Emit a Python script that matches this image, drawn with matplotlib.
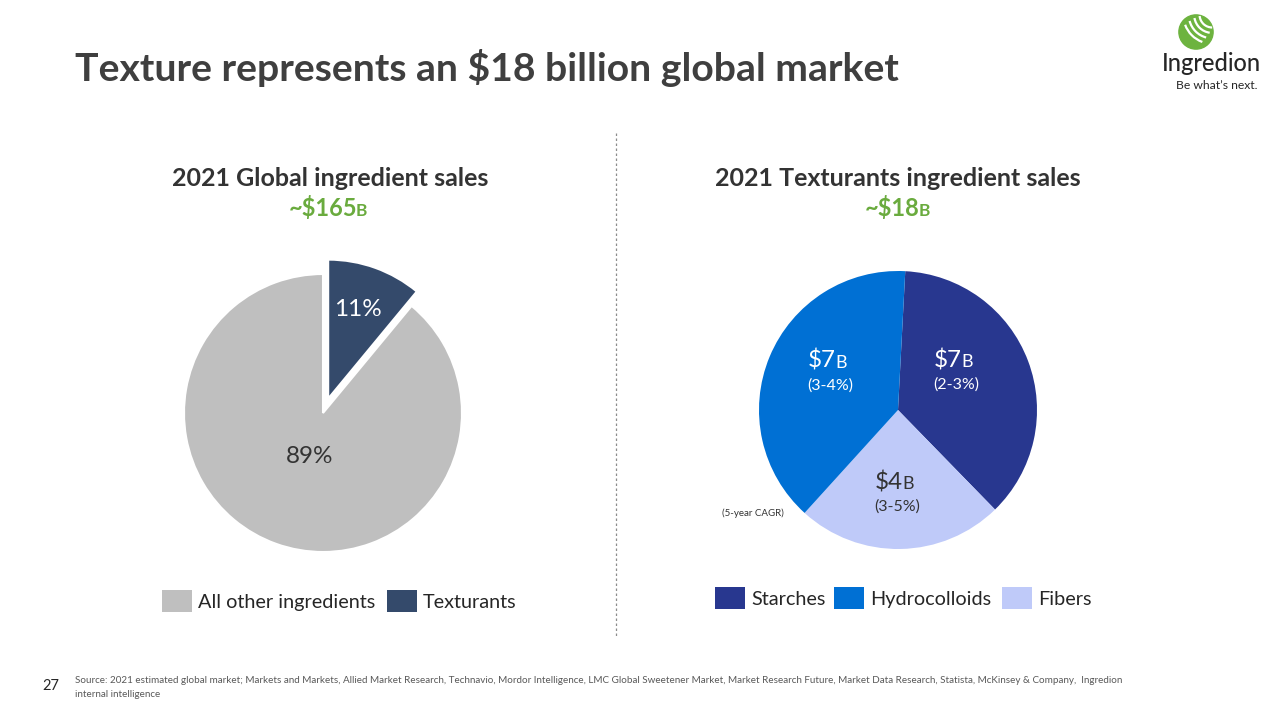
import matplotlib
matplotlib.use('Agg')
import matplotlib.pyplot as plt
from matplotlib.patches import Rectangle, Circle, Arc

plt.rcParams['font.family'] = ['Lato', 'DejaVu Sans']

# left pie: share of global ingredient sales
global_labels = ['Texturants', 'All other ingredients']
global_share = [11, 89]
global_colors = ['#344A6B', '#BFBFBF']

# right pie: texturant sales in $B (clockwise from the top)
tex_labels = ['Starches', 'Fibers', 'Hydrocolloids']
tex_sales = [6.6, 4.3, 7.0]
tex_value_text = ['$7', '$4', '$7']
tex_cagr = ['(2-3%)', '(3-5%)', '(3-4%)']
tex_colors = ['#28378F', '#BFCAF9', '#0070D4']
tex_text_colors = ['white', '#333333', 'white']

source_lines = ["Source: 2021 estimated global market; Markets and Markets, Allied Market Research, Technavio, "
                "Mordor Intelligence, LMC Global Sweetener Market, Market Research Future, Market Data Research, "
                "Statista, McKinsey & Company,  Ingredion",
                "internal intelligence"]

W, H = 1280, 720
fig = plt.figure(figsize=(12.8, 7.2), dpi=100)
fig.patch.set_facecolor('white')


def fx(x):
    return x / W


def fy(y):
    return 1 - y / H


def pie_axes(cx, cy, r, lim=1.3):
    half = r * lim
    ax = fig.add_axes([fx(cx - half), fy(cy + half), 2 * half / W, 2 * half / H])
    ax.axis('off')
    return ax, lim


def fix_limits(ax, lim):
    ax.set_xlim(-lim, lim)
    ax.set_ylim(-lim, lim)
    ax.set_aspect('equal')


def split_text(x, y, big, small, size, small_size, color, weight='normal', shift=0):
    fig.text(fx(x + shift), fy(y), big, fontsize=size, color=color, weight=weight,
             ha='right', va='baseline')
    fig.text(fx(x + shift - 1), fy(y), small, fontsize=small_size, color=color, weight=weight,
             ha='left', va='baseline')


# title
fig.text(fx(75), fy(81), 'Texture represents an $18 billion global market', fontsize=28.2,
         weight='bold', color='#3F3F3F', ha='left', va='baseline')

# logo
lax = fig.add_axes([fx(1178), fy(50), 36 / W, 36 / H])
lax.set_xlim(-1, 1)
lax.set_ylim(-1, 1)
lax.set_aspect('equal')
lax.axis('off')
lax.add_patch(Circle((0, 0), 0.95, color='#6DB33F'))
for r, a1, a2 in [(1.6, 200, 250), (1.3, 195, 255), (1.0, 190, 262), (0.7, 185, 270)]:
    lax.add_patch(Arc((0.9, 0.95), 2 * r, 2 * r, theta1=a1, theta2=a2, color='white', lw=1.6))
fig.text(fx(1211), fy(71), 'Ingredion', fontsize=17, color='#262626', weight='medium',
         ha='center', va='baseline')
fig.text(fx(1176), fy(89), 'Be what\u2019s next.', fontsize=8.7, color='#262626', ha='left', va='baseline')

# divider
fig.add_artist(plt.Line2D([fx(616), fx(616)], [fy(133), fy(636)], color='#8C8C8C', lw=0.9,
                          linestyle=(0, (2, 2))))

# subtitles
fig.text(fx(330), fy(186), '2021 Global ingredient sales', fontsize=18, weight='bold',
         color='#333333', ha='center', va='baseline')
split_text(330, 216, '~$165', 'B', 17, 12.5, '#6AAB3E', 'bold', shift=27)
fig.text(fx(898), fy(186), '2021 Texturants ingredient sales', fontsize=18, weight='bold',
         color='#333333', ha='center', va='baseline')
split_text(898, 216, '~$18', 'B', 17, 12.5, '#6AAB3E', 'bold', shift=22)

# left pie
ax1, lim1 = pie_axes(323, 413, 139)
ax1.pie(global_share, colors=global_colors, startangle=90, counterclock=False,
        explode=[0.11, 0], radius=1, wedgeprops=dict(edgecolor='white', linewidth=1.5))
fix_limits(ax1, lim1)
fig.text(fx(358), fy(316), '%d%%' % global_share[0], fontsize=17.5, color='white', ha='center', va='baseline')
fig.text(fx(310), fy(463), '%d%%' % global_share[1], fontsize=17.5, color='#333333', ha='center', va='baseline')

# right pie
ax2, lim2 = pie_axes(898, 410, 139)
ax2.pie(tex_sales, colors=tex_colors, startangle=87, counterclock=False, radius=1,
        wedgeprops=dict(edgecolor='none'))
fix_limits(ax2, lim2)
label_pos = [(956, 367), (897, 489), (830, 368)]
for (lx, ly), big, cagr, tc in zip(label_pos, tex_value_text, tex_cagr, tex_text_colors):
    split_text(lx, ly, big, 'B', 17.5, 13, tc, shift=6)
    fig.text(fx(lx), fy(ly + 22), cagr, fontsize=11.5, color=tc, ha='center', va='baseline')
fig.text(fx(722), fy(516), '(5-year CAGR)', fontsize=7, color='#333333', ha='left', va='baseline')


# legends
def legend_item(x, y, color, label):
    fig.add_artist(Rectangle((fx(x), fy(y + 22)), 30 / W, 22 / H, facecolor=color,
                             edgecolor='none', transform=fig.transFigure))
    fig.text(fx(x + 36), fy(y + 18), label, fontsize=14.3, color='#262626', ha='left', va='baseline')


legend_item(162, 590, global_colors[1], global_labels[1])
legend_item(387, 590, global_colors[0], global_labels[0])
legend_item(715, 587, tex_colors[0], tex_labels[0])
legend_item(834, 587, tex_colors[2], tex_labels[2])
legend_item(1002, 587, tex_colors[1], tex_labels[1])

# footer
fig.text(fx(42), fy(690), '27', fontsize=10.5, color='#262626', ha='left', va='baseline')
fig.text(fx(75), fy(683), source_lines[0], fontsize=7.1, color='#595959', ha='left', va='baseline')
fig.text(fx(75), fy(697), source_lines[1], fontsize=7.1, color='#595959', ha='left', va='baseline')

fig.savefig('out.png', dpi=100)
